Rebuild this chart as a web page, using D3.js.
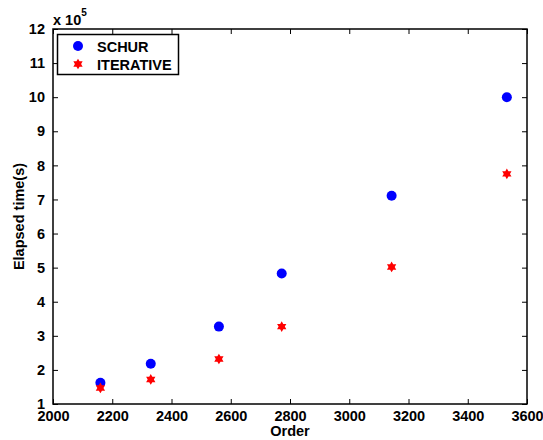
<!DOCTYPE html>
<html>
<head>
<meta charset="utf-8">
<script src="https://cdn.jsdelivr.net/npm/d3@7"></script>
<style>
  html, body { margin: 0; padding: 0; background: #fff; }
  svg { display: block; }
  text { font-family: "Liberation Sans", Arial, Helvetica, sans-serif; font-weight: bold; }
</style>
</head>
<body>
<svg id="chart" width="543" height="440"></svg>
<script>
// Matrix order for each run
const orders = [2160, 2330, 2560, 2772, 3143, 3532];
// Elapsed time, in units of 1e5 seconds
const schurTimes = [1.62, 2.18, 3.27, 4.83, 7.11, 10.0];
const iterativeTimes = [1.47, 1.72, 2.32, 3.27, 5.02, 7.75];
const seriesNames = ["SCHUR", "ITERATIVE"];
const xTicks = [2000, 2200, 2400, 2600, 2800, 3000, 3200, 3400, 3600];
const yTicks = [1, 2, 3, 4, 5, 6, 7, 8, 9, 10, 11, 12];

const svg = d3.select("#chart");
const margin = { left: 53, right: 16, top: 29, bottom: 36 };
const W = 543, H = 440;
const FS = 14.5;
const x = d3.scaleLinear().domain([2000, 3600]).range([margin.left, W - margin.right]);
const y = d3.scaleLinear().domain([1, 12]).range([H - margin.bottom, margin.top]);

const tickLen = 5;
const axisStyle = g => {
  g.select(".domain").remove();
  g.selectAll("line").attr("stroke", "#000").attr("stroke-width", 1);
  g.selectAll("text").attr("fill", "#000").attr("font-size", FS).attr("font-weight", "bold");
};

// bottom axis (ticks pointing inward)
svg.append("g")
  .attr("transform", `translate(0,${y(1)})`)
  .call(d3.axisBottom(x).tickValues(xTicks).tickFormat(d3.format("d")).tickSizeInner(-tickLen).tickSizeOuter(0).tickPadding(7))
  .call(axisStyle);
// top axis ticks
svg.append("g")
  .attr("transform", `translate(0,${y(12)})`)
  .call(d3.axisTop(x).tickValues(xTicks).tickFormat("").tickSizeInner(-tickLen).tickSizeOuter(0))
  .call(axisStyle);
// left axis
svg.append("g")
  .attr("transform", `translate(${x(2000)},0)`)
  .call(d3.axisLeft(y).tickValues(yTicks).tickFormat(d3.format("d")).tickSizeInner(-tickLen).tickSizeOuter(0).tickPadding(8))
  .call(axisStyle);
// right axis ticks
svg.append("g")
  .attr("transform", `translate(${x(3600)},0)`)
  .call(d3.axisRight(y).tickValues(yTicks).tickFormat("").tickSizeInner(-tickLen).tickSizeOuter(0))
  .call(axisStyle);

// plot frame
svg.append("rect")
  .attr("x", x(2000)).attr("y", y(12))
  .attr("width", x(3600) - x(2000)).attr("height", y(1) - y(12))
  .attr("fill", "none").attr("stroke", "#000").attr("stroke-width", 1.5);

// exponent label
const expo = svg.append("text").attr("x", x(2000)).attr("y", y(12) - 4)
  .attr("font-size", FS).attr("fill", "#000");
expo.append("tspan").text("x 10");
expo.append("tspan").attr("dy", -9).attr("font-size", 10).text("5");

// axis titles
svg.append("text").attr("x", (x(2000) + x(3600)) / 2).attr("y", 436)
  .attr("text-anchor", "middle").attr("font-size", FS).attr("fill", "#000").text("Order");
svg.append("text")
  .attr("transform", `translate(24,${(y(1) + y(12)) / 2}) rotate(-90)`)
  .attr("text-anchor", "middle").attr("font-size", FS).attr("fill", "#000").text("Elapsed time(s)");

// six-pointed star marker path
const hexagram = d3.symbol().type({
  draw(ctx, size) {
    const r = Math.sqrt(size) / 2;
    const ri = r * 0.577;
    for (let i = 0; i < 12; i++) {
      const a = Math.PI / 2 + i * Math.PI / 6;
      const rr = i % 2 === 0 ? r : ri;
      const px = rr * Math.cos(a), py = -rr * Math.sin(a);
      if (i === 0) ctx.moveTo(px, py); else ctx.lineTo(px, py);
    }
    ctx.closePath();
  }
}).size(115);

const schur = orders.map((o, i) => ({ o, v: schurTimes[i] }));
const iter = orders.map((o, i) => ({ o, v: iterativeTimes[i] }));

svg.append("g").selectAll("circle").data(schur).join("circle")
  .attr("cx", d => x(d.o)).attr("cy", d => y(d.v)).attr("r", 5)
  .attr("fill", "#0000ff");

svg.append("g").selectAll("path").data(iter).join("path")
  .attr("d", hexagram)
  .attr("transform", d => `translate(${x(d.o)},${y(d.v)})`)
  .attr("fill", "#ff0000");

// legend
const lg = svg.append("g");
lg.append("rect").attr("x", 57.5).attr("y", 34.5).attr("width", 121).attr("height", 40)
  .attr("fill", "#fff").attr("stroke", "#000").attr("stroke-width", 1.5);
lg.append("circle").attr("cx", 78).attr("cy", 46).attr("r", 5).attr("fill", "#0000ff");
lg.append("path").attr("d", hexagram).attr("transform", "translate(78,64)").attr("fill", "#ff0000");
lg.selectAll("text.lab").data(seriesNames).join("text").attr("class", "lab")
  .attr("x", 97).attr("y", (d, i) => 52 + i * 17.5)
  .attr("font-size", FS).attr("fill", "#000").text(d => d);
</script>
</body>
</html>
